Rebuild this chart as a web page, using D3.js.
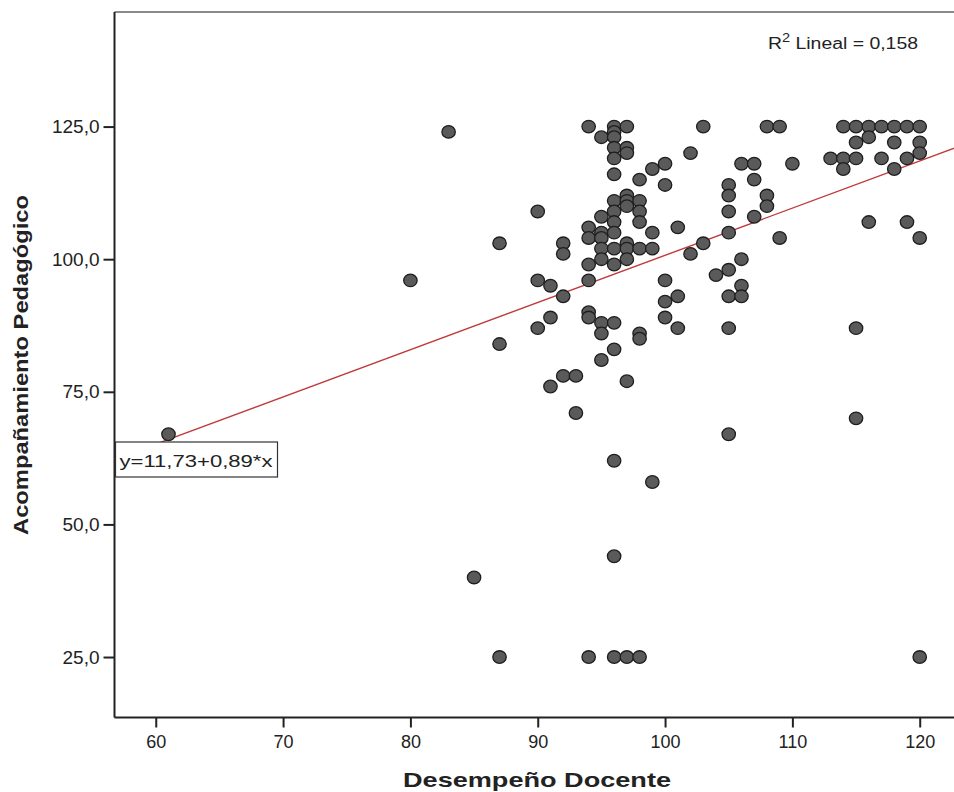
<!DOCTYPE html>
<html>
<head>
<meta charset="utf-8">
<script src="https://cdn.jsdelivr.net/npm/d3@7"></script>
<style>
  html, body { margin: 0; padding: 0; background: #fff; }
  svg { display: block; }
  text { font-family: "Liberation Sans", Arial, sans-serif; fill: #222; }
</style>
</head>
<body>
<svg id="chart" width="954" height="792"></svg>
<script>
// ---- Data (Desempeño Docente x, Acompañamiento Pedagógico y) ----
const xValues = [
  61, 80, 83, 85,
  87, 87, 87,
  90, 90, 90,
  91, 91, 91,
  92, 92, 92, 92,
  93, 93,
  94, 94, 94, 94, 94, 94, 94, 94,
  95, 95, 95, 95, 95, 95, 95, 95, 95,
  96, 96, 96, 96, 96, 96, 96, 96, 96, 96, 96, 96, 96, 96, 96, 96, 96,
  97, 97, 97, 97, 97, 97, 97, 97, 97, 97, 97,
  98, 98, 98, 98, 98, 98, 98, 98,
  99, 99, 99, 99,
  100, 100, 100, 100, 100,
  101, 101, 101,
  102, 102,
  103, 103,
  104,
  105, 105, 105, 105, 105, 105, 105, 105,
  106, 106, 106, 106,
  107, 107, 107,
  108, 108, 108,
  109, 109,
  110,
  113,
  114, 114, 114,
  115, 115, 115, 115, 115,
  116, 116, 116,
  117, 117,
  118, 118, 118,
  119, 119, 119,
  120, 120, 120, 120, 120
];
const yValues = [
  67, 96, 124, 40,
  103, 84, 25,
  109, 96, 87,
  95, 89, 76,
  103, 101, 93, 78,
  78, 71,
  125, 106, 104, 99, 96, 90, 89, 25,
  123, 108, 105, 104, 102, 100, 88, 86, 81,
  125, 124, 123, 121, 119, 116, 111, 109, 107, 105, 102, 99, 88, 83, 62, 44, 25,
  125, 121, 120, 112, 111, 110, 103, 102, 100, 77, 25,
  115, 111, 109, 107, 102, 86, 85, 25,
  117, 105, 102, 58,
  118, 114, 96, 92, 89,
  106, 93, 87,
  120, 101,
  125, 103,
  97,
  114, 112, 109, 105, 98, 93, 87, 67,
  118, 100, 95, 93,
  118, 115, 108,
  125, 112, 110,
  125, 104,
  118,
  119,
  125, 119, 117,
  125, 122, 119, 87, 70,
  125, 123, 107,
  125, 119,
  125, 122, 117,
  125, 119, 107,
  125, 122, 120, 104, 25
];
const xTicks = [60, 70, 80, 90, 100, 110, 120];
const yTicks = [25, 50, 75, 100, 125];
const fitIntercept = 11.73;
const fitSlope = 0.89;
const rSquared = "0,158";
const xTitle = "Desempeño Docente";
const yTitle = "Acompañamiento Pedagógico";
const fitLabel = "y=11,73+0,89*x";

// ---- Layout ----
const svg = d3.select("#chart");
const pL = 114.5, pR = 956, pT = 12, pB = 717.5;

const x = d3.scaleLinear().domain([56.76, 122.85]).range([pL, pR]);
const y = d3.scaleLinear().domain([13.6, 146.6]).range([pB, pT]);

const points = xValues.map((v, i) => ({ x: v, y: yValues[i] }));

svg.append("defs").append("clipPath").attr("id", "plotclip")
  .append("rect").attr("x", pL).attr("y", pT)
  .attr("width", pR - pL).attr("height", pB - pT);

// top frame
svg.append("line").attr("x1", pL).attr("x2", pR).attr("y1", pT).attr("y2", pT)
  .attr("stroke", "#8a8a8a").attr("stroke-width", 2);

// Axes
const fmtY = d => d3.format(".1f")(d).replace(".", ",");
const yAxis = d3.axisLeft(y).tickValues(yTicks).tickSize(11).tickPadding(4).tickFormat(fmtY);
const gy = svg.append("g").attr("transform", `translate(${pL},0)`).call(yAxis);
gy.select(".domain").remove();
gy.selectAll(".tick line").attr("stroke", "#222").attr("stroke-width", 2);
gy.selectAll(".tick text").attr("font-size", 19).attr("fill", "#222")
  .attr("font-family", "Liberation Sans, Arial, sans-serif");

const xAxis = d3.axisBottom(x).tickValues(xTicks).tickSize(10).tickPadding(8).tickFormat(d3.format("d"));
const gx = svg.append("g").attr("transform", `translate(0,${pB})`).call(xAxis);
gx.select(".domain").remove();
gx.selectAll(".tick line").attr("stroke", "#222").attr("stroke-width", 2);
gx.selectAll(".tick text").attr("font-size", 18).attr("fill", "#222")
  .attr("font-family", "Liberation Sans, Arial, sans-serif");

// left & bottom frame lines
svg.append("line").attr("x1", pL).attr("x2", pL).attr("y1", pT).attr("y2", pB)
  .attr("stroke", "#222").attr("stroke-width", 2);
svg.append("line").attr("x1", pL).attr("x2", pR).attr("y1", pB).attr("y2", pB)
  .attr("stroke", "#222").attr("stroke-width", 2);

const plot = svg.append("g").attr("clip-path", "url(#plotclip)");

// Regression line
const xd = x.domain();
plot.append("line")
  .attr("x1", x(xd[0])).attr("y1", y(fitIntercept + fitSlope * xd[0]))
  .attr("x2", x(xd[1])).attr("y2", y(fitIntercept + fitSlope * xd[1]))
  .attr("stroke", "#c0393b").attr("stroke-width", 1.4);

// Points
plot.selectAll("ellipse.pt").data(points).join("ellipse")
  .attr("class", "pt")
  .attr("cx", d => x(d.x)).attr("cy", d => y(d.y))
  .attr("rx", 6.7).attr("ry", 6.3)
  .attr("fill", "#5a5a5a").attr("stroke", "#1e1e1e").attr("stroke-width", 1.3);

// Fit label box
const lab = svg.append("g");
lab.append("rect").attr("x", pL + 1).attr("y", 442).attr("width", 162).attr("height", 35)
  .attr("fill", "#fff").attr("stroke", "#333").attr("stroke-width", 1.2);
lab.append("text").attr("x", pL + 5).attr("y", 467).attr("font-size", 17)
  .attr("textLength", 153).attr("lengthAdjust", "spacingAndGlyphs")
  .text(fitLabel);

// R squared label
const r2 = svg.append("text").attr("x", 768).attr("y", 48.5).attr("font-size", 16)
  .attr("textLength", 150).attr("lengthAdjust", "spacingAndGlyphs");
r2.append("tspan").text("R");
r2.append("tspan").attr("dy", -7).attr("font-size", 12).text("2");
r2.append("tspan").attr("dy", 7).text(" Lineal = " + rSquared);

// Axis titles
svg.append("text").attr("x", 537).attr("y", 787).attr("text-anchor", "middle")
  .attr("font-size", 21).attr("font-weight", "bold").attr("fill", "#111")
  .attr("textLength", 268).attr("lengthAdjust", "spacingAndGlyphs")
  .text(xTitle);

svg.append("text").attr("transform", "translate(28,365) rotate(-90)")
  .attr("text-anchor", "middle")
  .attr("font-size", 21).attr("font-weight", "bold").attr("fill", "#111")
  .attr("textLength", 340).attr("lengthAdjust", "spacingAndGlyphs")
  .text(yTitle);
</script>
</body>
</html>
